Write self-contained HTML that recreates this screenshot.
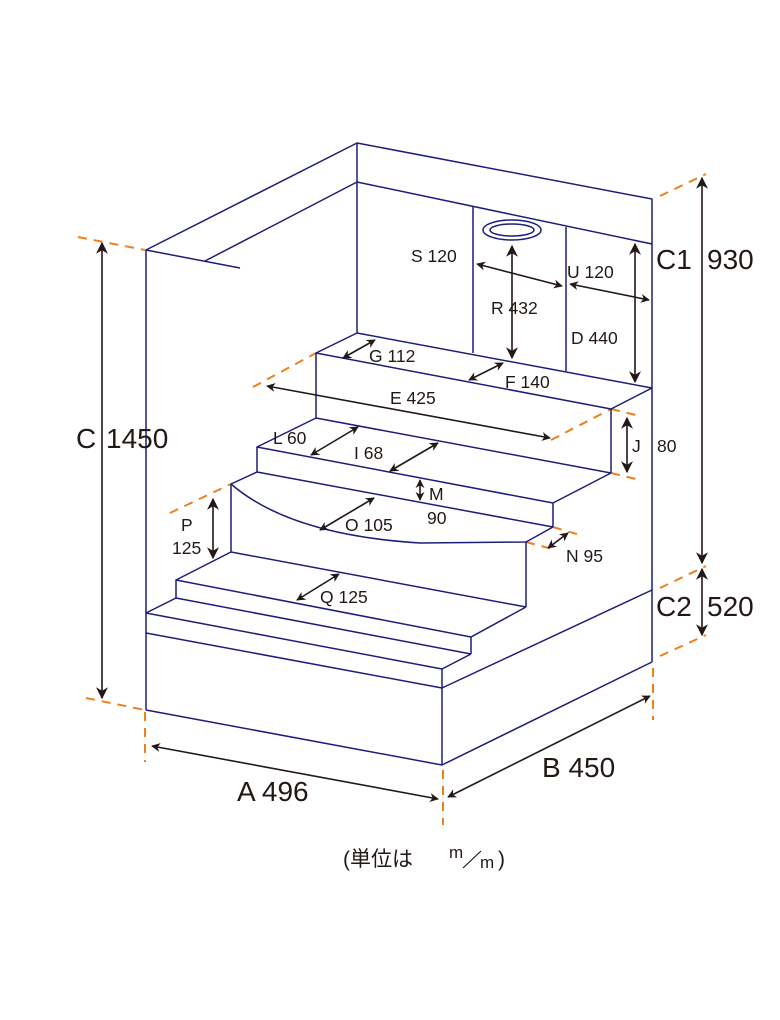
<!DOCTYPE html>
<html><head><meta charset="utf-8"><style>
html,body{margin:0;padding:0;background:#fff;}
svg{display:block;}
text{font-family:"Liberation Sans","Noto Sans CJK JP",sans-serif;fill:#231815;}
</style></head><body>
<svg width="780" height="1020" viewBox="0 0 780 1020" xmlns="http://www.w3.org/2000/svg">
<defs>
<marker id="a" viewBox="0 0 10 10" refX="9" refY="5" markerWidth="9" markerHeight="9" orient="auto-start-reverse" markerUnits="userSpaceOnUse"><path d="M0,0 L10,5 L0,10 L3,5 z" fill="#231815"/></marker>
<marker id="b" viewBox="0 0 10 10" refX="9" refY="5" markerWidth="12" markerHeight="12" orient="auto-start-reverse" markerUnits="userSpaceOnUse"><path d="M0,0 L10,5 L0,10 L3,5 z" fill="#231815"/></marker>
</defs>
<g stroke="#ee7f1a" stroke-width="2" stroke-dasharray="9,7" fill="none">
<line x1="78" y1="237" x2="145" y2="250"/>
<line x1="86" y1="698" x2="145" y2="710"/>
<line x1="145" y1="712" x2="145" y2="762"/>
<line x1="443" y1="770" x2="443" y2="825"/>
<line x1="653" y1="668" x2="653" y2="720"/>
<line x1="660" y1="196" x2="706" y2="174"/>
<line x1="660" y1="588" x2="706" y2="566"/>
<line x1="660" y1="656" x2="706" y2="635"/>
<line x1="253" y1="387" x2="316" y2="353"/>
<line x1="551" y1="440" x2="611" y2="409"/>
<line x1="611" y1="409" x2="640" y2="416"/>
<line x1="611" y1="473" x2="640" y2="480"/>
<line x1="170" y1="513" x2="231" y2="484"/>
<line x1="553" y1="527" x2="580" y2="535"/>
<line x1="526" y1="542" x2="556" y2="550"/>
</g>
<g stroke="#1d1d7a" stroke-width="1.5" fill="none" stroke-linejoin="round">
<polyline points="146,710 146,250 357,143 652,199 652,662"/>
<polyline points="205,261 357,182 652,244"/>
<line x1="146" y1="250" x2="240" y2="268"/>
<line x1="357" y1="143" x2="357" y2="333"/>
<line x1="473" y1="207" x2="473" y2="353"/>
<line x1="566" y1="227" x2="566" y2="371"/>
<polyline points="652,388 357,333 316,353 611,409 652,388"/>
<polyline points="316,353 316,418 611,473"/>
<line x1="611" y1="409" x2="611" y2="473"/>
<polyline points="316,418 257,447 553,503 611,473"/>
<polyline points="257,447 257,472 553,527"/>
<line x1="553" y1="503" x2="553" y2="527"/>
<path d="M257,472 L231,484 Q290,535 420,543 L526,542 L553,527"/>
<polyline points="231,484 231,552 526,607"/>
<line x1="526" y1="542" x2="526" y2="607"/>
<polyline points="231,552 176,580 471,637 526,607"/>
<polyline points="176,580 176,598 471,654"/>
<line x1="471" y1="637" x2="471" y2="654"/>
<polyline points="176,598 146,613 442,669 471,654"/>
<line x1="146" y1="633" x2="442" y2="688"/>
<line x1="442" y1="669" x2="442" y2="765"/>
<polyline points="146,710 442,765 652,662"/>
<line x1="442" y1="688" x2="652" y2="590"/>
<ellipse cx="512" cy="230" rx="29" ry="10"/>
<ellipse cx="512" cy="230" rx="22" ry="6"/>
</g>
<g stroke="#231815" stroke-width="1.6" fill="none">
<line x1="102" y1="243" x2="102" y2="698" marker-start="url(#b)" marker-end="url(#b)"/>
<line x1="702" y1="178" x2="702" y2="563" marker-start="url(#b)" marker-end="url(#b)"/>
<line x1="702" y1="569" x2="702" y2="635" marker-start="url(#b)" marker-end="url(#b)"/>
<line x1="152" y1="746" x2="438" y2="799" marker-start="url(#a)" marker-end="url(#a)"/>
<line x1="448" y1="797" x2="650" y2="696" marker-start="url(#a)" marker-end="url(#a)"/>
<line x1="477" y1="264" x2="562" y2="286" marker-start="url(#a)" marker-end="url(#a)"/>
<line x1="570" y1="284" x2="649" y2="300" marker-start="url(#a)" marker-end="url(#a)"/>
<line x1="512" y1="246" x2="512" y2="358" marker-start="url(#b)" marker-end="url(#b)"/>
<line x1="635" y1="244" x2="635" y2="382" marker-start="url(#b)" marker-end="url(#b)"/>
<line x1="343" y1="358" x2="375" y2="340" marker-start="url(#a)" marker-end="url(#a)"/>
<line x1="469" y1="380" x2="503" y2="363" marker-start="url(#a)" marker-end="url(#a)"/>
<line x1="267" y1="386" x2="550" y2="438" marker-start="url(#a)" marker-end="url(#a)"/>
<line x1="311" y1="455" x2="358" y2="427" marker-start="url(#a)" marker-end="url(#a)"/>
<line x1="390" y1="471" x2="438" y2="443" marker-start="url(#a)" marker-end="url(#a)"/>
<line x1="420" y1="480" x2="420" y2="500" marker-start="url(#a)" marker-end="url(#a)"/>
<line x1="320" y1="530" x2="374" y2="498" marker-start="url(#a)" marker-end="url(#a)"/>
<line x1="548" y1="548" x2="568" y2="533" marker-start="url(#a)" marker-end="url(#a)"/>
<line x1="213" y1="499" x2="213" y2="558" marker-start="url(#b)" marker-end="url(#b)"/>
<line x1="297" y1="600" x2="339" y2="574" marker-start="url(#a)" marker-end="url(#a)"/>
<line x1="627" y1="418" x2="627" y2="472" marker-start="url(#b)" marker-end="url(#b)"/>
</g>
<g font-size="28">
<text x="76" y="448">C</text>
<text x="106" y="448">1450</text>
<text x="656" y="269">C1</text>
<text x="707" y="269">930</text>
<text x="656" y="616">C2</text>
<text x="707" y="616">520</text>
<text x="237" y="801">A 496</text>
<text x="542" y="777">B 450</text>
</g>
<g font-size="17.5">
<text x="411" y="262">S 120</text>
<text x="567" y="278">U 120</text>
<text x="491" y="314">R 432</text>
<text x="571" y="344">D 440</text>
<text x="369" y="362">G 112</text>
<text x="505" y="388">F 140</text>
<text x="390" y="404">E 425</text>
<text x="273" y="444">L 60</text>
<text x="354" y="459">I 68</text>
<text x="429" y="500">M</text>
<text x="427" y="524">90</text>
<text x="345" y="531">O 105</text>
<text x="566" y="562">N 95</text>
<text x="181" y="531">P</text>
<text x="172" y="554">125</text>
<text x="320" y="603">Q 125</text>
<text x="632" y="452">J</text>
<text x="657" y="452">80</text>
</g>
<text x="343" y="866" font-size="21">(単位は</text>
<text x="449" y="858" font-size="17">m</text>
<line x1="463" y1="868" x2="481" y2="851" stroke="#231815" stroke-width="1.2"/>
<text x="480" y="868" font-size="17">m</text>
<text x="498" y="866" font-size="21">)</text>
</svg>
</body></html>
